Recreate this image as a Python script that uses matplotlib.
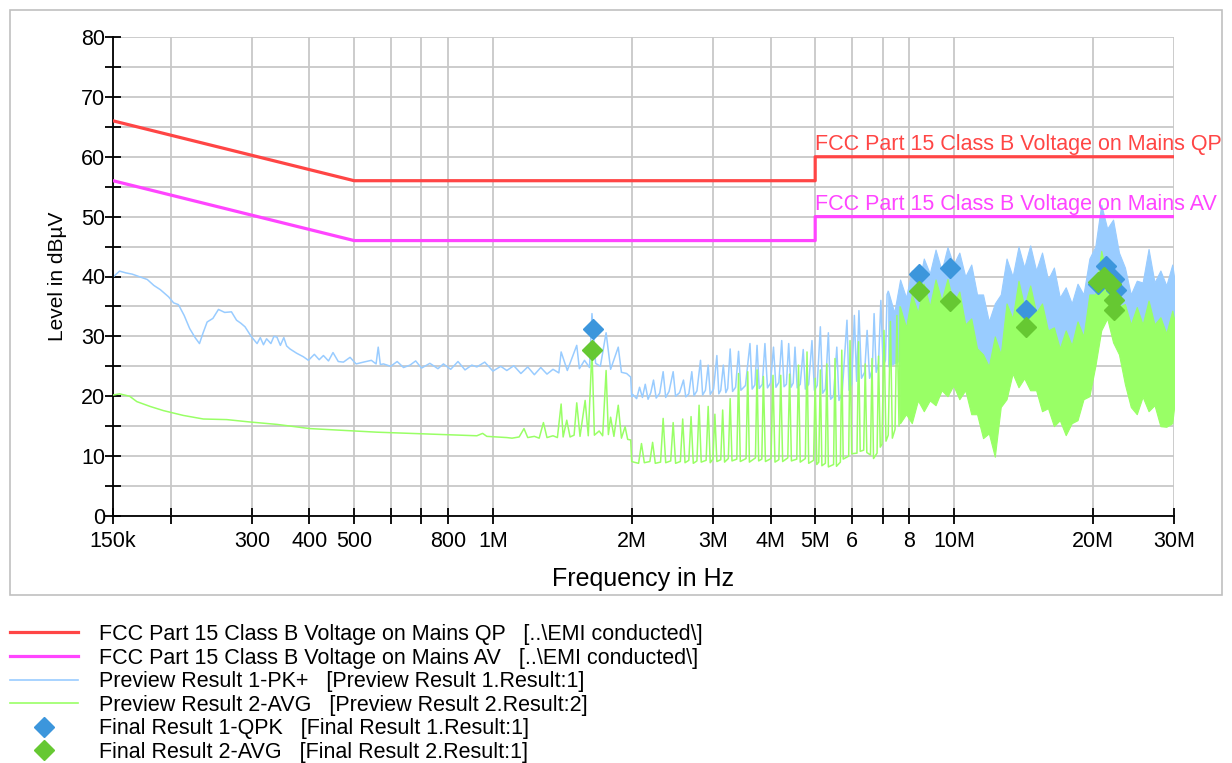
import matplotlib
matplotlib.use('Agg')
import matplotlib.pyplot as plt
import matplotlib.ticker as mticker
from matplotlib.lines import Line2D
from matplotlib.patches import Rectangle

plt.rcParams['font.family'] = ['Liberation Sans', 'DejaVu Sans']

# limit lines (MHz, dBuV)
qp_f = [0.15, 0.5, 5, 5, 30]
qp_db = [66, 56, 56, 60, 60]
av_lim_f = [0.15, 0.5, 5, 5, 30]
av_lim_db = [56, 46, 46, 50, 50]

# preview peak trace, 150k - 7.2M
pk_f = [0.150, 0.155, 0.160, 0.165, 0.172, 0.178, 0.184, 0.190, 0.198, 0.203,
        0.208, 0.214, 0.220, 0.226, 0.231, 0.235, 0.240, 0.247, 0.254, 0.262,
        0.271, 0.278, 0.284, 0.290, 0.299, 0.308, 0.313, 0.318, 0.323, 0.330,
        0.335, 0.340, 0.346, 0.352, 0.357, 0.363, 0.375, 0.388, 0.398, 0.410,
        0.420, 0.429, 0.440, 0.450, 0.462, 0.474, 0.490, 0.505, 0.524, 0.545,
        0.558, 0.564, 0.570, 0.579, 0.600, 0.620, 0.640, 0.661, 0.680, 0.700,
        0.730, 0.760, 0.781, 0.810, 0.840, 0.870, 0.900, 0.923, 0.960, 1.000,
        1.040, 1.072, 1.110, 1.150, 1.190, 1.230, 1.270, 1.310, 1.350, 1.390,
        1.406, 1.450, 1.520, 1.540, 1.580, 1.620, 1.640, 1.670, 1.710, 1.760,
        1.800, 1.870, 1.900, 1.950, 1.990, 2.000,
        2.01, 2.05, 2.08, 2.11, 2.14, 2.17, 2.20, 2.23, 2.26, 2.30,
        2.34, 2.37, 2.41, 2.46, 2.49, 2.54, 2.59, 2.62, 2.66, 2.70,
        2.73, 2.77, 2.82, 2.85, 2.89, 2.93, 2.96, 3.01, 3.06, 3.09,
        3.12, 3.16, 3.20, 3.23, 3.27, 3.31, 3.36, 3.41, 3.45, 3.53,
        3.61, 3.65, 3.70, 3.74, 3.78, 3.84, 3.89, 3.94, 4.00, 4.06,
        4.11, 4.17, 4.23, 4.28, 4.33, 4.38, 4.43, 4.48, 4.52, 4.57,
        4.64, 4.71, 4.76, 4.84, 4.92, 4.98, 5.05, 5.13, 5.19, 5.26,
        5.34, 5.40, 5.48, 5.57, 5.63, 5.72, 5.86, 5.92, 6.00, 6.08,
        6.15, 6.22, 6.30, 6.40, 6.48, 6.56, 6.65, 6.71, 6.78, 6.86,
        6.94, 7.02, 7.10, 7.16, 7.20]
pk_db = [39.9, 40.9, 40.6, 40.4, 39.9, 39.5, 38.5, 37.8, 36.6, 35.6,
         35.3, 33.5, 31.3, 29.8, 28.8, 30.5, 32.4, 33.0, 34.5, 34.0,
         34.1, 32.7, 32.2, 31.6, 30.0, 28.8, 29.8, 28.6, 29.6, 28.8,
         30.0, 29.9, 28.5, 29.8, 28.4, 27.9, 27.2, 26.6, 26.0, 27.0,
         26.1, 26.8, 25.9, 27.3, 25.8, 25.7, 26.5, 25.4, 25.7, 26.0,
         25.4, 28.2, 25.3, 25.4, 25.0, 25.8, 24.8, 25.2, 25.9, 24.7,
         25.5, 24.6, 25.4, 24.5, 25.8, 24.4, 25.2, 24.9, 25.7, 24.2,
         25.0, 24.3, 25.1, 23.8, 24.9, 23.6, 24.8, 23.7, 24.5, 23.9,
         27.4, 24.3, 28.5, 24.6, 26.0, 24.8, 33.8, 25.5, 25.0, 30.6,
         24.5, 28.2, 24.0, 23.8, 23.2, 19.9,
         20.3, 19.6, 21.5, 19.8, 22.0, 19.5, 20.6, 22.7, 19.7, 20.5,
         24.1, 19.8, 20.8, 24.1, 20.0, 20.6, 22.7, 19.9, 20.4, 24.1,
         20.1, 20.9, 26.0, 20.2, 21.0, 25.2, 20.3, 21.2, 26.8, 20.4,
         21.0, 25.2, 20.6, 21.3, 27.9, 20.8, 21.5, 27.5, 21.0, 21.8,
         28.8, 21.2, 21.9, 28.5, 21.3, 22.0, 28.8, 21.4, 22.2, 28.2,
         21.5, 22.3, 29.3, 21.6, 22.0, 28.8, 21.5, 22.2, 28.2, 21.4,
         22.0, 27.8, 21.2, 22.0, 29.3, 21.0, 21.8, 31.6, 20.5, 21.2,
         30.6, 19.5, 20.0, 28.2, 19.3, 20.5, 32.7, 21.0, 22.0, 33.5,
         22.5, 34.3, 23.0, 24.0, 31.0, 23.0, 24.5, 33.8, 24.0, 25.5,
         36.0, 25.0, 26.0, 37.0, 37.5]

# shared frequency grid of the dense part, 7.2M - 30M
band_f = [7.2, 7.42, 7.64, 7.87, 8.1, 8.35, 8.6, 8.86, 9.12, 9.4,
          9.68, 9.97, 10.27, 10.58, 10.9, 11.22, 11.56, 11.9, 12.26, 12.63,
          13.0, 13.4, 13.8, 14.2, 14.63, 15.07, 15.52, 15.99, 16.47, 16.96,
          17.47, 18.0, 18.53, 19.09, 19.66, 20.25, 20.86, 21.49, 22.13, 22.79,
          23.48, 24.18, 24.91, 25.65, 26.42, 27.22, 28.03, 28.87, 29.74, 30.0]
pk_band_hi = [37.5, 34.0, 39.5, 36.5, 41.0, 38.0, 43.0, 40.5, 44.5, 41.0,
              44.9, 42.0, 44.0, 40.0, 42.0, 37.0, 37.0, 32.5, 35.5, 37.0,
              43.0, 40.0, 45.0, 41.5, 45.2, 41.0, 44.0, 39.5, 41.5, 36.5,
              38.2, 35.5, 38.8, 37.0, 43.0, 45.0, 52.0, 48.0, 49.5, 44.0,
              41.5, 37.0, 39.3, 39.0, 44.6, 39.0, 41.0, 38.5, 42.0, 40.0]
pk_band_lo = [25.0, 25.5, 26.0, 26.5, 27.0, 28.0, 28.0, 29.0, 29.0, 29.5,
              30.0, 30.0, 29.5, 29.0, 28.0, 27.0, 25.0, 22.0, 23.0, 25.0,
              28.0, 30.0, 31.0, 31.0, 31.0, 30.0, 29.0, 28.0, 27.0, 26.0,
              26.0, 26.5, 27.0, 29.0, 31.0, 34.0, 36.0, 36.0, 35.0, 32.0,
              28.0, 27.0, 26.0, 26.5, 27.0, 26.0, 25.0, 24.0, 25.0, 25.0]

# preview average trace, 150k - 7.6M
avg_f = [0.150, 0.155, 0.163, 0.169, 0.1805, 0.193, 0.213, 0.2355, 0.2647, 0.2973,
         0.340, 0.401, 0.474, 0.560, 0.661, 0.781, 0.923, 0.950, 0.970, 1.072,
         1.10, 1.14, 1.168, 1.19, 1.23, 1.26, 1.287, 1.31, 1.35, 1.38,
         1.406, 1.42, 1.446, 1.47, 1.50, 1.52, 1.545, 1.585, 1.61, 1.64,
         1.66, 1.70, 1.73, 1.76, 1.78, 1.80, 1.83, 1.87, 1.90, 1.935,
         1.96, 1.99, 2.00,
         2.02, 2.07, 2.10, 2.13, 2.19, 2.22, 2.25, 2.31, 2.34, 2.37,
         2.43, 2.46, 2.49, 2.55, 2.58, 2.61, 2.66, 2.69, 2.72, 2.77,
         2.80, 2.83, 2.90, 2.93, 2.96, 3.00, 3.03, 3.06, 3.12, 3.15,
         3.18, 3.24, 3.27, 3.30, 3.38, 3.41, 3.44, 3.54, 3.57, 3.60,
         3.71, 3.74, 3.77, 3.83, 3.86, 3.90, 4.01, 4.05, 4.09, 4.17,
         4.21, 4.25, 4.36, 4.40, 4.44, 4.56, 4.60, 4.64, 4.76, 4.80,
         4.84, 4.96, 5.00, 5.04, 5.09, 5.13, 5.17, 5.26, 5.30, 5.34,
         5.48, 5.52, 5.56, 5.67, 5.71, 5.75, 5.91, 5.95, 6.00, 6.16,
         6.21, 6.26, 6.37, 6.42, 6.47, 6.59, 6.64, 6.69, 6.81, 6.86,
         6.92, 6.98, 7.05, 7.12, 7.20, 7.28, 7.35, 7.45, 7.52, 7.60,
         7.64]
avg_db = [20.2, 20.4, 20.0, 19.1, 18.3, 17.6, 16.8, 16.2, 16.1, 15.7,
          15.3, 14.6, 14.3, 14.0, 13.8, 13.6, 13.4, 13.8, 13.3, 13.1,
          13.0, 13.2, 14.6, 13.1, 13.3, 13.0, 15.6, 13.1, 13.4, 13.1,
          18.7, 13.2, 16.0, 13.2, 13.5, 18.9, 13.3, 19.3, 13.4, 27.7,
          13.5, 14.2, 13.4, 24.3, 13.6, 16.5, 13.3, 18.5, 13.0, 14.9,
          12.8, 12.7, 9.1,
          9.0, 8.8, 12.1, 8.9, 9.1, 12.3, 8.8, 9.0, 16.3, 8.9,
          9.2, 15.6, 8.8, 9.1, 16.2, 8.9, 9.3, 16.6, 8.8, 9.2,
          18.5, 9.0, 9.3, 18.3, 8.9, 9.5, 17.0, 9.1, 9.4, 17.7,
          9.0, 9.6, 19.6, 9.2, 9.5, 23.8, 9.1, 9.6, 24.1, 9.0,
          9.7, 24.4, 9.2, 9.5, 23.3, 9.1, 9.6, 23.5, 9.0, 9.4,
          23.5, 9.1, 9.7, 23.7, 9.2, 9.5, 25.2, 9.0, 9.6, 27.4,
          8.8, 9.3, 23.0, 8.6, 9.0, 24.4, 8.4, 8.8, 25.4, 8.2,
          8.6, 26.3, 8.3, 9.0, 27.7, 9.5, 10.0, 29.3, 10.4, 10.5,
          29.1, 10.8, 11.0, 25.4, 10.6, 10.2, 26.3, 9.6, 10.5, 26.7,
          11.5, 12.0, 31.0, 12.5, 13.5, 32.5, 13.0, 14.5, 33.5, 15.0,
          34.9]

# preview average trace, dense part (on band_f from 7.64M)
avg_band_f = band_f[2:]
avg_band_hi = [34.9, 31.5, 37.0, 34.0, 38.8, 35.0, 39.5, 36.0, 39.6, 35.5,
               37.5, 32.0, 33.0, 28.0, 27.0, 25.0, 30.0, 27.0, 35.5, 33.0,
               39.3, 35.0, 38.5, 34.0, 35.5, 31.0, 31.5, 28.0, 31.0, 28.5,
               32.5, 30.0, 37.0, 37.0, 44.3, 40.0, 41.0, 35.0, 35.4, 32.0,
               34.9, 32.0, 36.0, 32.0, 33.2, 30.5, 34.3, 33.0]
avg_band_lo = [15.5, 17.0, 15.5, 19.3, 17.5, 19.3, 18.5, 21.0, 20.0, 21.8,
               19.5, 21.0, 17.0, 17.0, 13.0, 13.8, 9.9, 18.2, 19.5, 23.8,
               21.5, 23.0, 21.0, 21.0, 17.5, 18.0, 15.0, 16.0, 13.5, 15.5,
               16.0, 19.5, 20.0, 25.0, 31.0, 33.0, 29.0, 27.0, 22.0, 18.2,
               17.0, 19.9, 17.5, 18.5, 15.0, 14.9, 15.5, 18.0]

# final results
qpk_f = [1.65, 8.40, 9.80, 14.3, 20.5, 21.4, 22.2, 22.5]
qpk_db = [31.3, 40.5, 41.4, 34.4, 38.8, 41.8, 39.6, 37.8]
fin_avg_f = [1.64, 8.40, 9.80, 14.3, 20.5, 21.1, 21.9, 22.2, 22.2]
fin_avg_db = [27.7, 37.5, 35.9, 31.6, 39.0, 39.9, 38.8, 36.0, 34.4]

xtick_f = [0.15, 0.2, 0.3, 0.4, 0.5, 0.6, 0.7, 0.8, 1, 2, 3, 4, 5, 6, 7, 8, 10, 20, 30]
xtick_lbl = ['150k', '', '300', '400', '500', '', '', '800', '1M', '2M', '3M', '4M',
             '5M', '6', '', '8', '10M', '20M', '30M']

c_qp = '#ff4545'
c_av = '#ff45ff'
c_pk = '#99ccff'
c_avg = '#99ff66'
c_qpk = '#3c96dc'
c_favg = '#66c832'
fs = 15.5

fig = plt.figure(figsize=(12.32, 7.63), dpi=100)
ax = fig.add_axes([113/1232, 1-516/763, (1174-113)/1232, (516-37)/763])

ax.plot(pk_f, pk_db, color=c_pk, lw=1.1, zorder=2)
ax.fill_between(band_f, pk_band_lo, pk_band_hi, color=c_pk, lw=0.8, zorder=2)
ax.plot(avg_f, avg_db, color=c_avg, lw=1.1, zorder=3)
ax.fill_between(avg_band_f, avg_band_lo, avg_band_hi, color=c_avg, lw=0.8, zorder=3)
ax.plot(qp_f, qp_db, color=c_qp, lw=2.3, zorder=4)
ax.plot(av_lim_f, av_lim_db, color=c_av, lw=2.3, zorder=4)
ax.plot(qpk_f, qpk_db, 'D', color=c_qpk, ms=10.5, zorder=5)
ax.plot(fin_avg_f, fin_avg_db, 'D', color=c_favg, ms=10.5, zorder=5)

ax.text(5.0, 60.3, 'FCC Part 15 Class B Voltage on Mains QP', color=c_qp,
        fontsize=fs, va='bottom', ha='left', clip_on=False)
ax.text(5.0, 50.3, 'FCC Part 15 Class B Voltage on Mains AV', color=c_av,
        fontsize=fs, va='bottom', ha='left', clip_on=False)

ax.set_xscale('log')
ax.set_xlim(0.15, 30)
ax.set_ylim(0, 80)
ax.xaxis.set_major_locator(mticker.FixedLocator(xtick_f))
ax.xaxis.set_major_formatter(mticker.FixedFormatter(xtick_lbl))
ax.xaxis.set_minor_locator(mticker.NullLocator())
ax.yaxis.set_major_locator(mticker.MultipleLocator(10))
ax.yaxis.set_minor_locator(mticker.MultipleLocator(5))
ax.grid(True, which='both', color='#c8c8c8', lw=1.3, zorder=0)
ax.set_axisbelow(True)
for s in ['top', 'right']:
    ax.spines[s].set_visible(False)
ax.spines['left'].set_linewidth(1.3)
ax.spines['bottom'].set_linewidth(1.3)
ax.tick_params(which='both', direction='inout', length=11, width=1.3,
               labelsize=fs, colors='black')
ax.tick_params(axis='x', pad=5)
ax.tick_params(axis='y', pad=0)

ax.set_xlabel('Frequency in Hz', fontsize=18, labelpad=11)
ax.set_ylabel('Level in dBµV', fontsize=15, labelpad=10)

fig.patches.append(Rectangle((10/1232, 1-595/763), 1212/1232, 585/763,
                             transform=fig.transFigure, fill=False,
                             ec='#c0c0c0', lw=1.2))

handles = [Line2D([], [], color=c_qp, lw=2.3),
           Line2D([], [], color=c_av, lw=2.3),
           Line2D([], [], color=c_pk, lw=1.2),
           Line2D([], [], color=c_avg, lw=1.2),
           Line2D([], [], ls='', marker='D', color=c_qpk, ms=10),
           Line2D([], [], ls='', marker='D', color=c_favg, ms=10)]
labels = ['FCC Part 15 Class B Voltage on Mains QP   [..\\EMI conducted\\]',
          'FCC Part 15 Class B Voltage on Mains AV   [..\\EMI conducted\\]',
          'Preview Result 1-PK+   [Preview Result 1.Result:1]',
          'Preview Result 2-AVG   [Preview Result 2.Result:2]',
          'Final Result 1-QPK   [Final Result 1.Result:1]',
          'Final Result 2-AVG   [Final Result 2.Result:1]']
fig.legend(handles, labels, loc='upper left', bbox_to_anchor=(10/1232, 1-624/763),
           frameon=False, fontsize=fs, handlelength=3.15, handletextpad=1.0,
           labelspacing=0.12, borderpad=0, borderaxespad=0)

fig.savefig('out.png', dpi=100)
